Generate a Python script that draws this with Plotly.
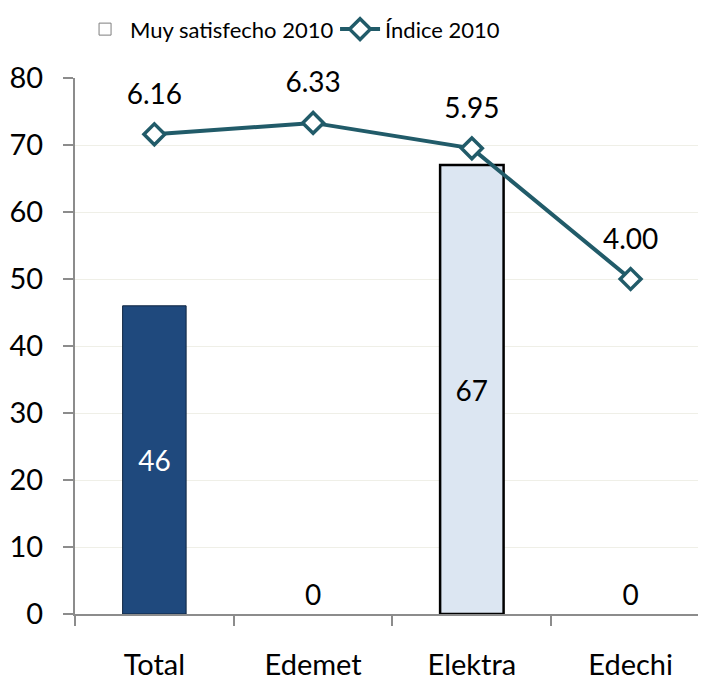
import plotly.graph_objects as go

categories = ["Total", "Edemet", "Elektra", "Edechi"]
muy_satisfecho = [46, 0, 67, 0]
indice = [6.16, 6.33, 5.95, 4.00]
indice_labels = ["6.16", "6.33", "5.95", "4.00"]
y_ticks = [0, 10, 20, 30, 40, 50, 60, 70, 80]

FONT = "Lato, Carlito, Calibri, sans-serif"
LINE_COLOR = "#215B69"

bar_colors = ["#1F497D", "#FFFFFF", "#DCE6F2", "#FFFFFF"]
bar_line_colors = ["#0E2440", "#000000", "#000000", "#000000"]
bar_line_widths = [1, 0, 2.5, 0]
text_colors = ["#FFFFFF", "#000000", "#000000", "#000000"]
text_positions = ["inside" if v > 0 else "outside" for v in muy_satisfecho]

fig = go.Figure()

fig.add_trace(go.Bar(
    x=categories, y=muy_satisfecho, width=0.40,
    marker=dict(color=bar_colors, line=dict(color=bar_line_colors, width=bar_line_widths)),
    text=[str(v) for v in muy_satisfecho], textposition=text_positions,
    insidetextanchor="middle", textangle=0,
    textfont=dict(family=FONT, size=28, color=text_colors),
    constraintext="none", cliponaxis=False,
    showlegend=False, hoverinfo="skip",
))

# legend entry for the bar series
fig.add_trace(go.Bar(
    x=categories, y=[None] * len(categories), name="Muy satisfecho 2010",
    marker=dict(color="#FFFFFF", line=dict(color="#7F7F7F", width=1)),
    showlegend=True, hoverinfo="skip",
))

fig.add_trace(go.Scatter(
    x=categories, y=indice, yaxis="y2", mode="lines+markers",
    name="Índice 2010",
    line=dict(color=LINE_COLOR, width=4),
    marker=dict(symbol="diamond", size=16, color="#FFFFFF",
                line=dict(color=LINE_COLOR, width=3.5)),
    cliponaxis=False,
))

# labels for the index line
fig.add_trace(go.Scatter(
    x=categories, y=indice, yaxis="y2", mode="markers+text",
    text=indice_labels, textposition="top center",
    textfont=dict(family=FONT, size=28, color="#000000"),
    marker=dict(size=36, color="rgba(0,0,0,0)"),
    showlegend=False, hoverinfo="skip", cliponaxis=False,
))

fig.update_layout(
    width=698, height=673,
    margin=dict(l=67, r=0, t=66, b=62),
    paper_bgcolor="white", plot_bgcolor="white",
    barmode="overlay",
    font=dict(family=FONT, size=26, color="#000000"),
    showlegend=True,
    legend=dict(orientation="h", x=0.008, xanchor="left", y=1.13, yanchor="top",
                font=dict(family=FONT, size=22, color="#000000"),
                bgcolor="rgba(0,0,0,0)", itemwidth=40, entrywidth=200,
                traceorder="normal"),
    xaxis=dict(
        type="category", range=[-0.5, 3.475],
        showline=True, linecolor="#8C8C8C", linewidth=2,
        ticks="outside", tickson="boundaries", ticklen=10, tickcolor="#8C8C8C", tickwidth=1.5,
        showgrid=False, tickfont=dict(family=FONT, size=29, color="#000000"),
        ticklabelstandoff=24,
    ),
    yaxis=dict(
        range=[0, 80], tickvals=y_ticks,
        showline=True, linecolor="#8C8C8C", linewidth=2,
        ticks="outside", ticklen=10, tickcolor="#8C8C8C", tickwidth=1.5,
        showgrid=True, gridcolor="#EFEFE7", gridwidth=1,
        zeroline=False,
        tickfont=dict(family=FONT, size=29, color="#000000"),
        ticklabelstandoff=14,
    ),
    yaxis2=dict(range=[-1, 7], overlaying="y", visible=False),
)

fig.write_html("out.html")
